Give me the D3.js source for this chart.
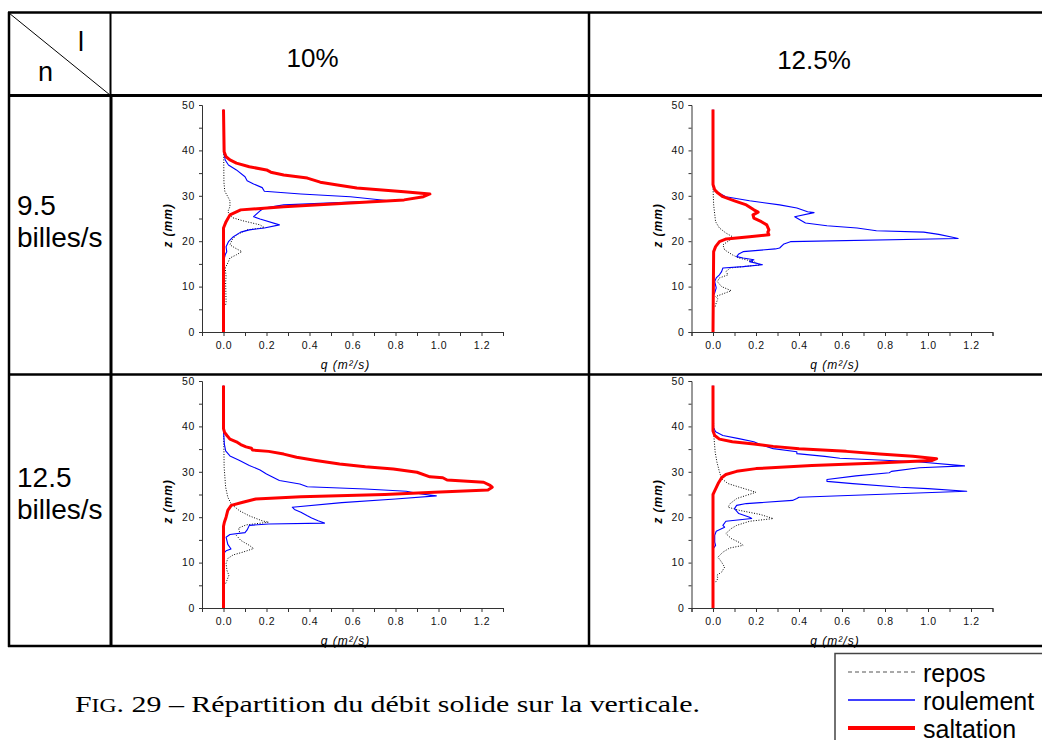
<!DOCTYPE html>
<html>
<head>
<meta charset="utf-8">
<script src="https://cdn.jsdelivr.net/npm/d3@7"></script>
<style>
  body { margin: 0; background: #fff; }
  svg { display: block; font-family: "Liberation Sans", Arial, sans-serif; }
  .tick text { font-size: 10.5px; fill: #111; letter-spacing: 0.6px; }
  .domain, .tick line { stroke: #333; }
</style>
</head>
<body>
<div id="chart"></div>
<script>
// table labels
var columnLabels = ["10%", "12.5%"];
var rowLabels = [["9.5", "billes/s"], ["12.5", "billes/s"]];
var legendLabels = ["repos", "roulement", "saltation"];

// axis ticks
var xTicks = [-0.1, 0, 0.1, 0.2, 0.3, 0.4, 0.5, 0.6, 0.7, 0.8, 0.9, 1.0, 1.1, 1.2, 1.3];
var xLabelled = [0, 0.2, 0.4, 0.6, 0.8, 1.0, 1.2];
var yTicks = [0, 5, 10, 15, 20, 25, 30, 35, 40, 45, 50];
var yLabelled = [0, 10, 20, 30, 40, 50];

// series as [z (mm), q (m²/s)]
// n = 9.5 billes/s, I = 10%
var repos_95_10 = [[6,0.01],[6.5,0.012],[11.1,0.01],[12.2,0.012],[14.1,0.008],[15.2,0.02],[16.3,0.03],[17,0.06],[17.7,0.085],[18.5,0.054],[19.2,0.03],[20.3,0.04],[21.4,0.06],[22.5,0.11],[23,0.19],[23.6,0.17],[24.5,0.09],[25.2,0.04],[26.5,0.02],[27.6,0.03],[28.4,0.03],[28.9,0.03],[29.8,0.02],[31,0.006],[33,0.002],[45,0]];
var roulement_95_10 = [[0,0],[15.5,0],[17,0.008],[17.7,0.015],[18.8,0.012],[19.9,0.023],[21,0.046],[22,0.08],[22.5,0.12],[22.9,0.19],[23.6,0.26],[24.9,0.17],[25.4,0.14],[26.7,0.17],[27.3,0.19],[28,0.28],[28.6,0.59],[28.9,0.77],[29.8,0.59],[30.4,0.36],[31,0.19],[31.8,0.18],[32.6,0.14],[33.3,0.11],[34.2,0.10],[35.7,0.06],[36.8,0.023],[37.9,0.008],[40,0],[49,0]];
var saltation_95_10 = [[0,0],[22.9,0],[24.3,0.012],[25.8,0.03],[26.9,0.08],[27.6,0.28],[28.4,0.59],[29.1,0.84],[29.8,0.93],[30.4,0.96],[30.9,0.84],[31.7,0.62],[32.4,0.53],[33,0.45],[33.9,0.39],[34.6,0.28],[35.2,0.22],[35.7,0.2],[36.4,0.12],[37.2,0.06],[37.9,0.03],[38.6,0.012],[39.7,0.003],[49,0]];

// n = 9.5 billes/s, I = 12.5%
var repos_95_125 = [[5.6,0.01],[6.4,0.015],[7.3,0.023],[7.8,0.012],[8.4,0.046],[9.1,0.085],[10,0.04],[11.1,0.02],[11.9,0.03],[12.6,0.07],[13.3,0.06],[14.1,0.08],[14.8,0.22],[15.5,0.19],[16.3,0.12],[17,0.09],[18.1,0.054],[19.2,0.046],[20.3,0.08],[21,0.09],[21.8,0.06],[22.9,0.03],[24.3,0.012],[28,0.003],[32,0],[45,0]];
var roulement_95_125 = [[0,0],[8,0],[8.6,0.008],[9.7,0.015],[11.1,0.008],[11.9,0.015],[12.6,0.03],[13.3,0.04],[14.1,0.046],[14.4,0.14],[14.8,0.23],[15.5,0.17],[15.9,0.19],[16.3,0.14],[16.6,0.11],[17.2,0.12],[17.7,0.14],[18.3,0.29],[18.5,0.31],[19.4,0.33],[19.9,0.36],[20.6,1.14],[20.8,1.12],[21.5,1.05],[22.0,0.98],[22.3,0.76],[22.9,0.67],[23.4,0.53],[24,0.43],[24.3,0.42],[25.4,0.38],[26.3,0.47],[26.5,0.44],[27.3,0.39],[28,0.31],[28.9,0.17],[29.8,0.06],[30.9,0.015],[32,0],[49,0]];
var saltation_95_125 = [[0,0],[17.7,0.003],[18.8,0.012],[19.9,0.03],[20.5,0.062],[21,0.17],[21.4,0.26],[22,0.255],[22.5,0.26],[23.6,0.25],[24.3,0.225],[25.1,0.19],[25.8,0.186],[26.4,0.21],[26.9,0.19],[28,0.155],[28.9,0.10],[29.8,0.046],[30.6,0.023],[31.3,0.008],[32.5,0],[49,0]];

// n = 12.5 billes/s, I = 10%
var repos_125_10 = [[5.4,0.01],[6.1,0.016],[7.2,0.025],[8.3,0.016],[9.8,0.012],[10.9,0.02],[11.7,0.045],[12.3,0.09],[13.1,0.14],[13.8,0.12],[14.9,0.08],[16,0.06],[16.7,0.075],[17.6,0.07],[18.3,0.105],[18.9,0.21],[19.2,0.18],[20.3,0.12],[21.4,0.075],[22.9,0.036],[24.4,0.02],[26.6,0.01],[31,0.003],[38,0.001],[45,0]];
var roulement_125_10 = [[0,0],[12,0],[12.6,0.012],[13,0.035],[14,0.02],[15.6,0.012],[16.2,0.03],[16.6,0.1],[17.2,0.11],[18.2,0.12],[18.5,0.21],[18.7,0.47],[19.2,0.44],[19.8,0.41],[20.3,0.39],[21.1,0.36],[21.7,0.33],[22.2,0.32],[23.2,0.55],[24.0,0.8],[24.7,0.99],[25.1,0.92],[25.7,0.85],[26.2,0.66],[26.7,0.39],[27.3,0.355],[28.1,0.26],[28.8,0.23],[29.5,0.2],[30.4,0.17],[31.4,0.12],[32.5,0.075],[33.5,0.03],[34.6,0.01],[36.1,0.004],[39,0],[49,0]];
var saltation_125_10 = [[0,0],[18,0],[18.9,0.004],[20,0.012],[21.5,0.02],[22.6,0.036],[23.3,0.09],[24,0.15],[24.5,0.36],[25,0.75],[25.5,0.98],[26,1.23],[26.6,1.25],[27,1.24],[27.7,1.21],[28.2,1.04],[28.7,1.02],[28.9,0.96],[29.9,0.9],[30.6,0.79],[31.1,0.66],[31.7,0.54],[32.5,0.43],[33.2,0.34],[33.9,0.28],[34.5,0.21],[34.8,0.135],[35.2,0.13],[35.5,0.105],[36,0.08],[36.6,0.06],[37.2,0.03],[38,0.016],[38.7,0.005],[39.5,0],[49,0]];

// n = 12.5 billes/s, I = 12.5%
var repos_125_125 = [[5.7,0.012],[6.5,0.023],[7.2,0.018],[7.9,0.04],[9,0.054],[10.1,0.04],[11.2,0.023],[12.3,0.046],[13.2,0.077],[13.8,0.14],[14.4,0.124],[15.3,0.085],[16.4,0.06],[17.5,0.085],[18.2,0.11],[19.1,0.17],[19.7,0.28],[20.6,0.22],[21.5,0.124],[22.2,0.07],[23,0.08],[24.1,0.11],[24.8,0.155],[25.5,0.2],[26.6,0.124],[27.4,0.07],[28.5,0.04],[30,0.03],[32.2,0.018],[34.4,0.01],[37.3,0.005],[45,0]];
var roulement_125_125 = [[0,0],[13,0],[13.8,0.012],[14.5,0.008],[16,0.008],[16.9,0.015],[17.8,0.054],[18.2,0.046],[19.1,0.06],[19.7,0.18],[20,0.17],[20.8,0.12],[21.9,0.1],[22.6,0.11],[23,0.155],[23.7,0.37],[24.1,0.39],[24.4,0.40],[25.7,1.18],[26.3,1.0],[26.6,0.87],[27.4,0.65],[27.9,0.53],[28.3,0.53],[29.1,0.665],[29.8,0.82],[30.1,0.83],[30.9,0.96],[31.3,1.17],[32.2,0.95],[33,0.59],[33.4,0.52],[34,0.39],[34.4,0.39],[35.1,0.28],[36,0.22],[36.6,0.19],[37.3,0.12],[38,0.046],[38.8,0.012],[40,0],[49,0]];
var saltation_125_125 = [[0,0],[25,0],[25.4,0.004],[26.5,0.015],[27.6,0.026],[28.7,0.04],[29.4,0.06],[30.1,0.11],[30.7,0.2],[31.4,0.46],[31.9,0.74],[32.5,1.02],[32.9,1.04],[33.4,0.93],[33.9,0.775],[34.5,0.62],[35.1,0.4],[35.6,0.28],[36.1,0.19],[36.6,0.09],[37.2,0.03],[38,0.008],[39,0],[49,0]];

var panels = [
  { row: 0, col: 0, repos: repos_95_10, roulement: roulement_95_10, saltation: saltation_95_10 },
  { row: 0, col: 1, repos: repos_95_125, roulement: roulement_95_125, saltation: saltation_95_125 },
  { row: 1, col: 0, repos: repos_125_10, roulement: roulement_125_10, saltation: saltation_125_10 },
  { row: 1, col: 1, repos: repos_125_125, roulement: roulement_125_125, saltation: saltation_125_125 }
];

var svgWidth = 1042;
var svgHeight = 740;

// plot frame position inside each table cell
var colX = [202, 691.5];
var rowY = [105, 381];
var plotW = 301;
var plotH = 227;

var styles = {
  repos: { stroke: "#000", width: 1, dash: "1,1.6" },
  roulement: { stroke: "#0000ff", width: 1.1, dash: null },
  saltation: { stroke: "#ff0000", width: 3, dash: null }
};

var svg = d3.select("#chart")
  .append("svg")
  .attr("width", svgWidth)
  .attr("height", svgHeight);

var x = d3.scaleLinear().domain([-0.1, 1.3]).range([0, plotW]);
var y = d3.scaleLinear().domain([0, 50]).range([plotH, 0]);

var line = d3.line()
  .x(d => x(d[1]))
  .y(d => y(d[0]));

var fmtX = d => xLabelled.some(v => Math.abs(v - d) < 1e-9) ? d3.format(".1f")(d) : "";
var fmtY = d => yLabelled.indexOf(d) >= 0 ? d : "";

panels.forEach(function(p) {
  var g = svg.append("g")
    .attr("transform", `translate(${colX[p.col]}, ${rowY[p.row]})`);

  var bottomAxis = d3.axisBottom(x).tickValues(xTicks).tickFormat(fmtX).tickSizeOuter(0).tickSize(4).tickPadding(4);
  var leftAxis = d3.axisLeft(y).tickValues(yTicks).tickFormat(fmtY).tickSizeOuter(0).tickSize(3).tickPadding(4);

  g.append("g")
    .attr("transform", `translate(0, ${plotH})`)
    .call(bottomAxis)
    .call(a => a.selectAll("text").attr("dy", "0.9em"));

  g.append("g")
    .call(leftAxis);

  ["repos", "roulement", "saltation"].forEach(function(k) {
    g.append("path")
      .datum(p[k])
      .attr("d", line)
      .attr("fill", "none")
      .attr("stroke", styles[k].stroke)
      .attr("stroke-width", styles[k].width)
      .attr("stroke-dasharray", styles[k].dash)
      .attr("stroke-linejoin", "round");
  });

  g.append("text")
    .attr("transform", `translate(-30, ${plotH / 2 + 7}) rotate(-90)`)
    .attr("text-anchor", "middle")
    .style("font-size", "12px")
    .style("font-weight", "bold")
    .style("font-style", "italic")
    .style("letter-spacing", "1px")
    .text("z (mm)");

  g.append("text")
    .attr("x", plotW / 2 - 7)
    .attr("y", plotH + 37)
    .attr("text-anchor", "middle")
    .style("font-size", "12px")
    .style("font-style", "italic")
    .style("letter-spacing", "1px")
    .text("q (m²/s)");
});

// table grid
var grid = svg.append("g").attr("stroke", "#000").attr("fill", "none");
grid.append("line").attr("x1", 8).attr("x2", svgWidth).attr("y1", 12.5).attr("y2", 12.5).attr("stroke-width", 2.5);
grid.append("line").attr("x1", 9).attr("x2", 9).attr("y1", 12).attr("y2", 647).attr("stroke-width", 2.5);
grid.append("line").attr("x1", 110.5).attr("x2", 110.5).attr("y1", 12).attr("y2", 95).attr("stroke-width", 2);
grid.append("line").attr("x1", 111).attr("x2", 111).attr("y1", 95).attr("y2", 647).attr("stroke-width", 3);
grid.append("line").attr("x1", 589).attr("x2", 589).attr("y1", 12).attr("y2", 647).attr("stroke-width", 2.5);
grid.append("line").attr("x1", 8).attr("x2", svgWidth).attr("y1", 95.5).attr("y2", 95.5).attr("stroke-width", 3);
grid.append("line").attr("x1", 8).attr("x2", svgWidth).attr("y1", 374.5).attr("y2", 374.5).attr("stroke-width", 2.5);
grid.append("line").attr("x1", 8).attr("x2", svgWidth).attr("y1", 646).attr("y2", 646).attr("stroke-width", 2.5);
grid.append("line").attr("x1", 9).attr("x2", 110).attr("y1", 13).attr("y2", 95).attr("stroke-width", 1);

// corner labels
svg.append("text").attr("x", 78).attr("y", 51).style("font-size", "27px").text("l");
svg.append("text").attr("x", 38).attr("y", 81).style("font-size", "27px").text("n");

// column headers
var headX = [312.5, 814];
var headY = [67, 69];
columnLabels.forEach(function(t, i) {
  svg.append("text")
    .attr("x", headX[i]).attr("y", headY[i])
    .attr("text-anchor", "middle")
    .style("font-size", "26px")
    .text(t);
});

// row headers
var rowBase = [215, 487];
rowLabels.forEach(function(lines, i) {
  lines.forEach(function(t, j) {
    svg.append("text")
      .attr("x", 17).attr("y", rowBase[i] + j * 32)
      .style("font-size", "28px")
      .text(t);
  });
});

// caption
var cap = svg.append("text")
  .attr("x", 75).attr("y", 712)
  .style("font-family", "'Liberation Serif', 'DejaVu Serif', serif")
  .style("font-size", "24px")
  .attr("textLength", 625)
  .attr("lengthAdjust", "spacingAndGlyphs");
cap.append("tspan").text("F");
cap.append("tspan").style("font-size", "19px").text("IG");
cap.append("tspan").text(". 29 – Répartition du débit solide sur la verticale.");

// legend
var legend = svg.append("g");
legend.append("rect")
  .attr("x", 835).attr("y", 653.5)
  .attr("width", 260).attr("height", 120)
  .attr("fill", "#fff")
  .attr("stroke", "#444")
  .attr("stroke-width", 1.5);

var legY = [672, 700, 728];
legendLabels.forEach(function(k, i) {
  legend.append("line")
    .attr("x1", 848).attr("x2", 915)
    .attr("y1", legY[i]).attr("y2", legY[i])
    .attr("stroke", k === "repos" ? "#555" : styles[k].stroke)
    .attr("stroke-width", k === "saltation" ? 4 : (k === "repos" ? 1.2 : 1.3))
    .attr("stroke-dasharray", k === "repos" ? "4,3" : null);
  legend.append("text")
    .attr("x", 923).attr("y", legY[i] + 10)
    .style("font-size", "25px")
    .text(k);
});
</script>
</body>
</html>
